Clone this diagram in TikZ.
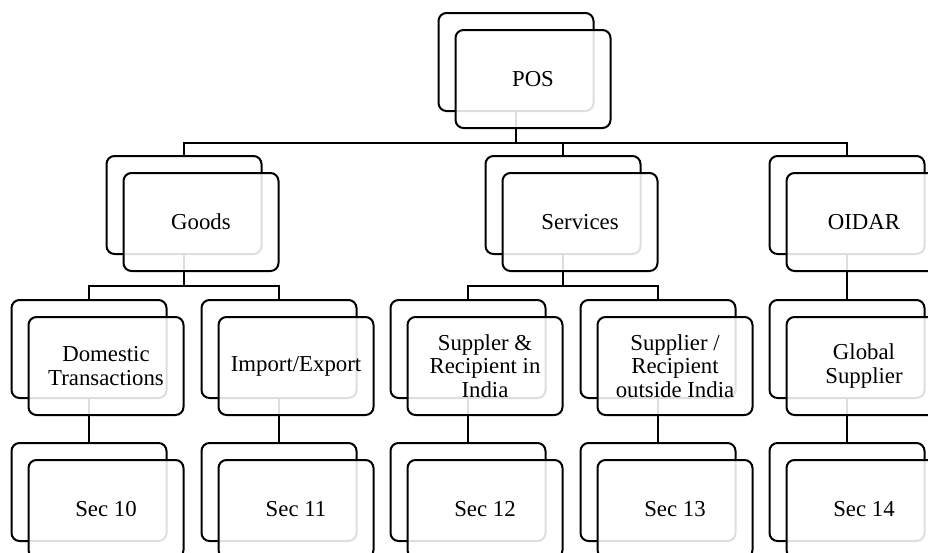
\documentclass[tikz,border=0pt]{standalone}
\usepackage{fontspec}
\setmainfont{Liberation Serif}
\usetikzlibrary{backgrounds}

\begin{document}
\begin{tikzpicture}[x=1pt, y=-1pt,
  card/.style={draw=black, line width=2pt, rounded corners=8pt,
    minimum width=155pt, minimum height=98pt, inner sep=0pt},
  backcard/.style={card, fill=white},
  frontcard/.style={card, fill=white, fill opacity=0.87, text opacity=1,
    align=center, font=\fontsize{22.8}{23.2}\selectfont},
  link/.style={line width=2pt, draw=black}
]
\useasboundingbox (0,0) rectangle (928,552);
\clip (0,0) rectangle (928,552);

% ---- back cards (centres) ----
\node[backcard] (posb)  at (516,62)  {};
\node[backcard] (goodsb) at (184,205) {};
\node[backcard] (servb)  at (563,205) {};
\node[backcard] (oidarb) at (847,205)   {};
\node[backcard] (domb)   at (89,349)  {};
\node[backcard] (impb)   at (279,349)   {};
\node[backcard] (supinb) at (468,349) {};
\node[backcard] (supoutb) at (658,349)  {};
\node[backcard] (globb)  at (847,349)   {};
\node[backcard] (s10b)   at (89,492)  {};
\node[backcard] (s11b)   at (279,492)   {};
\node[backcard] (s12b)   at (468,492) {};
\node[backcard] (s13b)   at (658,492)   {};
\node[backcard] (s14b)   at (847,492)   {};

% ---- front cards, shifted 17pt right and down ----
\node[frontcard] (pos)   at ([shift={(17,17)}]posb)   {POS};
\node[frontcard] (goods) at ([shift={(17,17)}]goodsb) {Goods};
\node[frontcard] (serv)  at ([shift={(17,17)}]servb)  {Services};
\node[frontcard] (oidar) at ([shift={(17,17)}]oidarb) {OIDAR};
\node[frontcard] (dom)   at ([shift={(17,17)}]domb)   {Domestic\\Transactions};
\node[frontcard] (imp)   at ([shift={(17,17)}]impb)   {Import/Export};
\node[frontcard] (supin) at ([shift={(17,17)}]supinb) {Suppler \&\\Recipient in\\India};
\node[frontcard] (supout) at ([shift={(17,17)}]supoutb) {Supplier /\\Recipient\\outside India};
\node[frontcard] (glob)  at ([shift={(17,17)}]globb)  {Global\\Supplier};
\node[frontcard] (s10)   at ([shift={(17,17)}]s10b)   {Sec 10};
\node[frontcard] (s11)   at ([shift={(17,17)}]s11b)   {Sec 11};
\node[frontcard] (s12)   at ([shift={(17,17)}]s12b)   {Sec 12};
\node[frontcard] (s13)   at ([shift={(17,17)}]s13b)   {Sec 13};
\node[frontcard] (s14)   at ([shift={(17,17)}]s14b)   {Sec 14};

% ---- connectors, behind the cards ----
\begin{pgfonlayer}{background}
  \draw[link] (posb.south) -- ++(0,31) -| (goodsb.north);
  \draw[link] (posb.south) -- ++(0,31) -| (servb.north);
  \draw[link] (posb.south) -- ++(0,31) -| (oidarb.north);
  \draw[link] (goodsb.south) -- ++(0,31) -| (domb.north);
  \draw[link] (goodsb.south) -- ++(0,31) -| (impb.north);
  \draw[link] (servb.south) -- ++(0,31) -| (supinb.north);
  \draw[link] (servb.south) -- ++(0,31) -| (supoutb.north);
  \draw[link] (oidarb.south) -- (globb.north);
  \draw[link] (domb.south) -- (s10b.north);
  \draw[link] (impb.south) -- (s11b.north);
  \draw[link] (supinb.south) -- (s12b.north);
  \draw[link] (supoutb.south) -- (s13b.north);
  \draw[link] (globb.south) -- (s14b.north);
\end{pgfonlayer}
\end{tikzpicture}
\end{document}
